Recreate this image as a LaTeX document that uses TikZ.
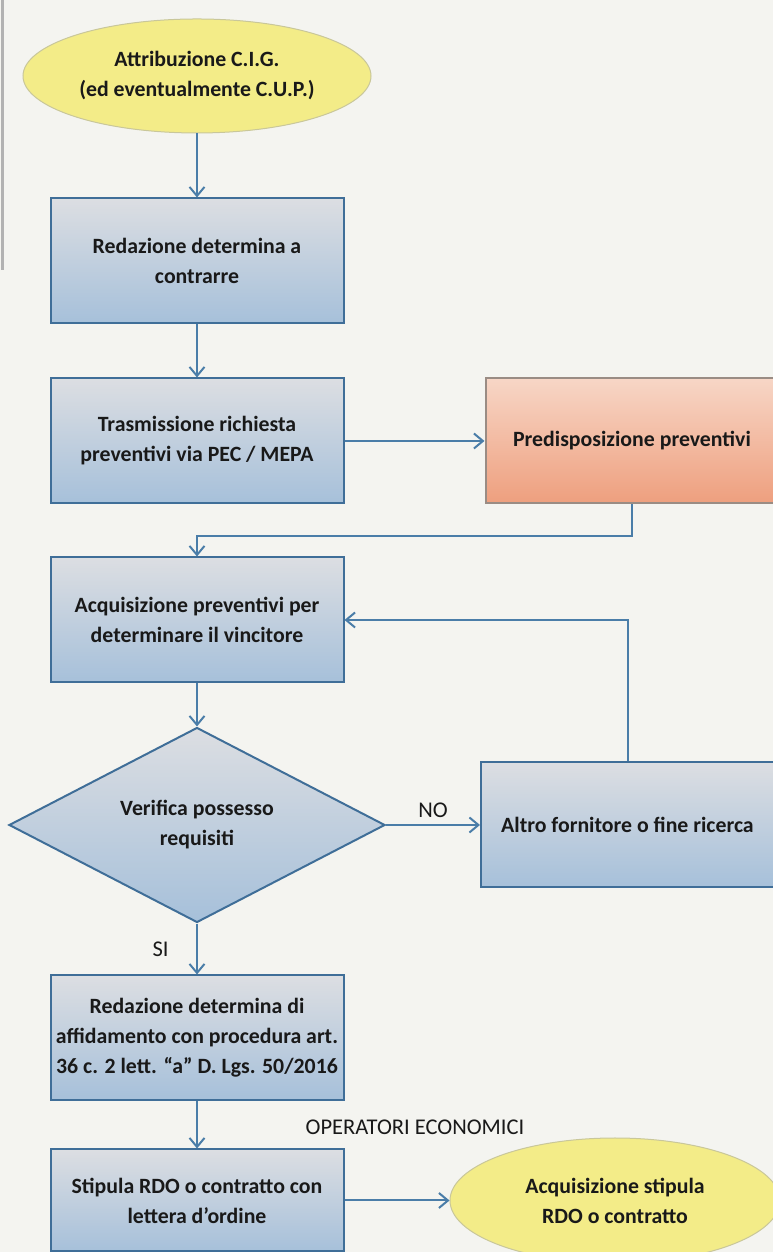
\documentclass[tikz,border=0pt]{standalone}
\usepackage{fontspec}
\setmainfont{Carlito}
\usetikzlibrary{arrows.meta,positioning,shapes.geometric}
\definecolor{lineblue}{HTML}{4A7DA8}
\definecolor{boxedge}{HTML}{3F6E98}
\definecolor{boxtop}{HTML}{DCDEE2}
\definecolor{boxbot}{HTML}{A6C0DA}
\definecolor{peachtop}{HTML}{F7D6C6}
\definecolor{peachbot}{HTML}{EE9F7E}
\definecolor{peachedge}{HTML}{9A8C84}
\definecolor{ellfill}{HTML}{F3EC88}
\definecolor{elledge}{HTML}{C9C79A}
\definecolor{paper}{HTML}{F4F4F0}
\tikzset{
  box/.style={draw=boxedge, line width=2pt, top color=boxtop, bottom color=boxbot, align=center, minimum width=293pt, minimum height=125pt, inner xsep=1pt, inner ysep=3pt, text=black!90, font=\fontsize{21.8}{30}\selectfont\bfseries},
  peachbox/.style={box, draw=peachedge, top color=peachtop, bottom color=peachbot},
  branch/.style={diamond, shape aspect=1.93, draw=boxedge, line width=2pt, top color=boxtop, bottom color=boxbot, align=center, minimum width=376pt, minimum height=195pt, inner sep=0pt, text=black!90, font=\fontsize{21.8}{30}\selectfont\bfseries},
  oval/.style={ellipse, draw=elledge, line width=1pt, fill=ellfill, align=center, inner sep=0pt, text=black!90, font=\fontsize{21.8}{30}\selectfont\bfseries},
  line/.style={-{Straight Barb[length=9pt, width=15pt]}, line width=2pt, draw=lineblue},
  tag/.style={text=black!90, font=\fontsize{22.5}{26}\selectfont}
}
\begin{document}
\begin{tikzpicture}[x=1pt, y=1pt]
  \fill[paper] (0,0) rectangle (773,1252);
  \clip (0,0) rectangle (773,1252);
  \draw[gray!60, line width=3pt] (2,1252) -- (2,982);

  % main column
  \node[oval, minimum width=348pt, minimum height=114pt] (cig) at (197,1176) {Attribuzione C.I.G.\\(ed eventualmente C.U.P.)};
  \node[box, below=64pt of cig] (contr) {Redazione determina a\\contrarre};
  \node[box, below=53pt of contr] (rich) {Trasmissione richiesta\\preventivi via PEC / MEPA};
  \node[peachbox, right=140pt of rich] (pred) {Predisposizione preventivi};
  \node[box, below=52pt of rich] (acq) {Acquisizione preventivi per\\determinare il vincitore};
  \node[branch, below=43pt of acq] (verif) {Verifica possesso\\requisiti};
  \node[box, right=94pt of verif] (altro) {Altro fornitore o fine ricerca};
  \node[box, below=51pt of verif] (affid) {Redazione determina di\\affidamento con procedura art.\\36 c. 2 lett. “a” D. Lgs. 50/2016};
  \node[box, minimum height=102pt, below=47pt of affid] (stip) {Stipula RDO o contratto con\\lettera d'ordine};
  \node[oval, minimum width=330pt, minimum height=125pt, right=105pt of stip] (acqst) {Acquisizione stipula\\RDO o contratto};
  \node[tag] (opec) at (415,125) {OPERATORI ECONOMICI};

  % connectors
  \draw[line] (cig) -- (contr);
  \draw[line] (contr) -- (rich);
  \draw[line] (rich) -- (pred);
  \draw[line] (pred.south) -- ++(0,-32) -| (acq.north);
  \draw[line] (acq) -- (verif);
  \draw[line] (verif) -- node[tag, above=3pt] (no) {NO} (altro);
  \draw[line] (altro.north) |- (acq.east);
  \draw[line] (verif) -- node[tag, left=24pt] (si) {SI} (affid);
  \draw[line] (affid) -- (stip);
  \draw[line] (stip) -- (acqst);
\end{tikzpicture}
\end{document}
